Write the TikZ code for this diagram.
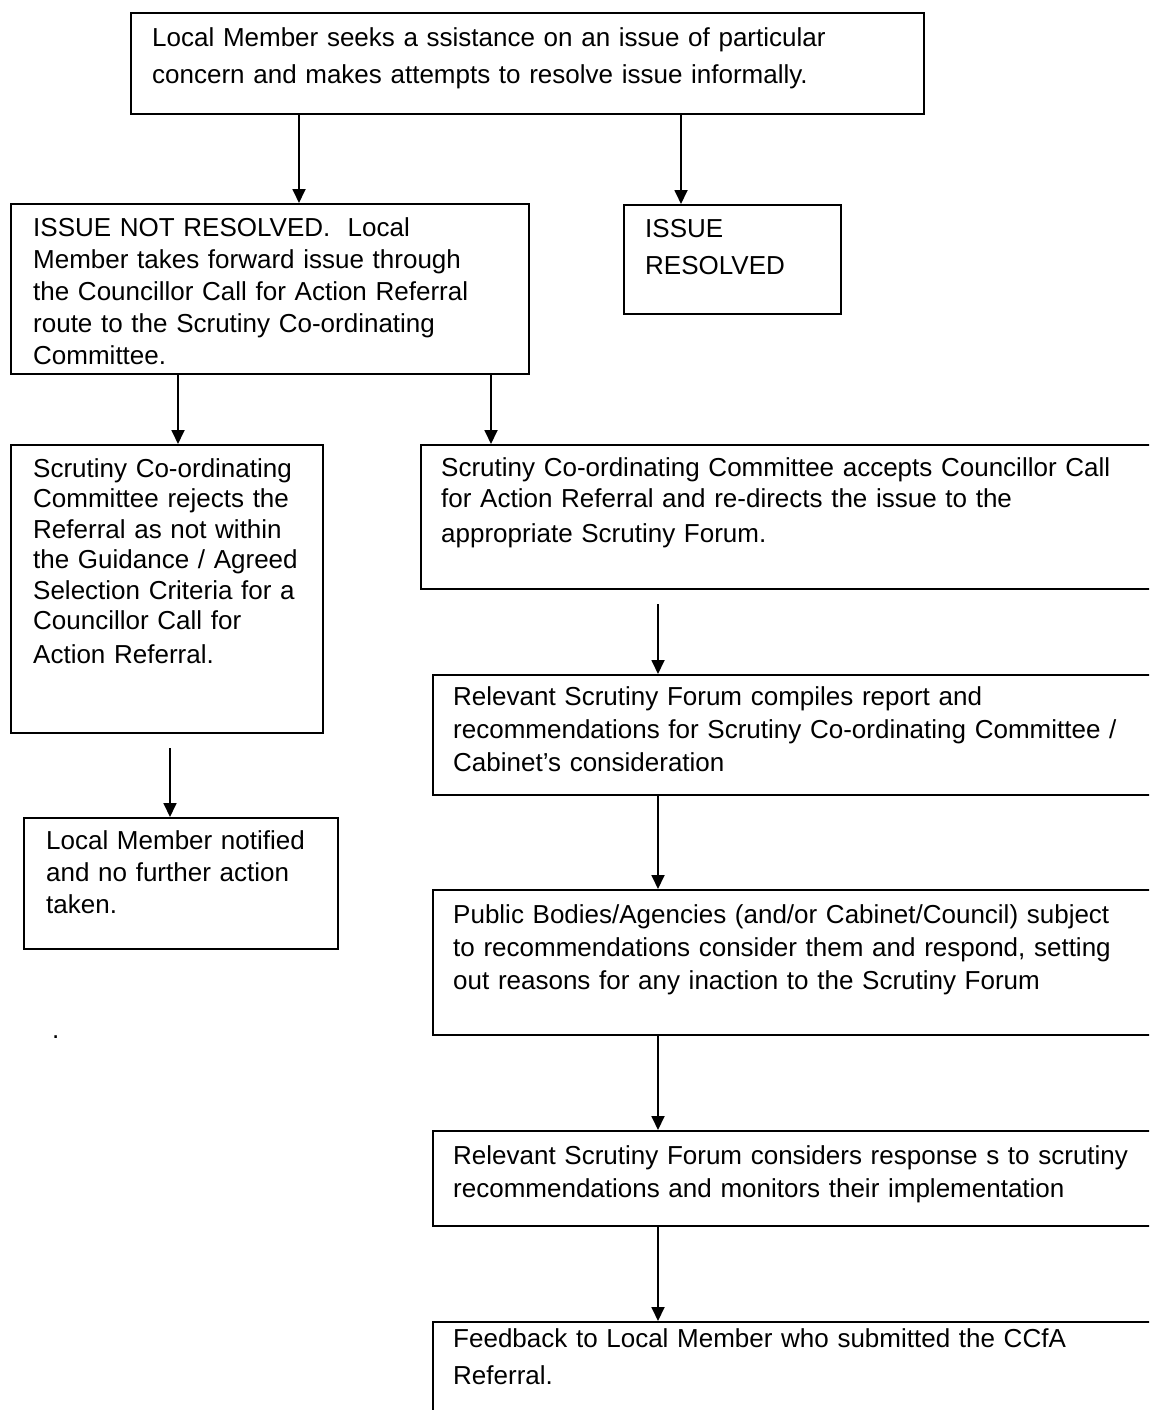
\documentclass[tikz,border=0pt]{standalone}
\usepackage{fontspec}
\setmainfont{Liberation Sans}
\usetikzlibrary{arrows.meta, calc}

\begin{document}
\begin{tikzpicture}[
  x=1pt, y=-1pt,
  panel/.style={draw, line width=2pt, anchor=north west, inner sep=0pt},
  words/.style={anchor=base west, inner sep=0pt, align=left, text width=740pt, font=\fontsize{26}{#1}\selectfont},
  words/.default=31,
  flow/.style={-{Triangle[length=14pt, width=13pt]}, line width=1.8pt}
]
  \useasboundingbox (0,0) rectangle (1149,1410);
  \clip (0,0) rectangle (1149,1410);

  \node[panel, minimum width=793pt, minimum height=101pt] (ask) at (130,12) {};
  \node[panel, minimum width=518pt, minimum height=170pt] (open) at (10,203) {};
  \node[panel, minimum width=217pt, minimum height=109pt] (done) at (623,204) {};
  \node[panel, minimum width=312pt, minimum height=288pt] (refuse) at (10,444) {};
  \node[panel, minimum width=760pt, minimum height=144pt] (accept) at (420,444) {};
  \node[panel, minimum width=760pt, minimum height=120pt] (report) at (432,674) {};
  \node[panel, minimum width=314pt, minimum height=131pt] (notify) at (23,817) {};
  \node[panel, minimum width=760pt, minimum height=145pt] (bodies) at (432,889) {};
  \node[panel, minimum width=760pt, minimum height=95pt] (review) at (432,1130) {};
  \node[panel, minimum width=760pt, minimum height=140pt] (feedback) at (432,1321) {};

  \node[words=37] (ask-t) at (152,47) {Local Member seeks a ssistance on an issue of particular\\concern and makes attempts to resolve issue informally.};
  \node[words=32] (open-t) at (33,236) {ISSUE NOT RESOLVED.~~Local\\Member takes forward issue through\\the Councillor Call for Action Referral\\route to the Scrutiny Co-ordinating\\Committee.};
  \node[words=37] (done-t) at (645,237) {ISSUE\\RESOLVED};
  \node[words=30.5] (refuse-t) at (33,477) {Scrutiny Co-ordinating\\Committee rejects the\\Referral as not within\\the Guidance / Agreed\\Selection Criteria for a\\Councillor Call for\\[3pt]Action Referral.};
  \node[words] (accept-t) at (441,476) {Scrutiny Co-ordinating Committee accepts Councillor Call\\for Action Referral and re-directs the issue to the\\[4pt]appropriate Scrutiny Forum.};
  \node[words=33] (report-t) at (453,705) {Relevant Scrutiny Forum compiles report and\\recommendations for Scrutiny Co-ordinating Committee /\\Cabinet’s consideration};
  \node[words=32] (notify-t) at (46,849) {Local Member notified\\and no further action\\taken.};
  \node[words=33] (bodies-t) at (453,923) {Public Bodies/Agencies (and/or Cabinet/Council) subject\\to recommendations consider them and respond, setting\\out reasons for any inaction to the Scrutiny Forum};
  \node[words=33] (review-t) at (453,1164) {Relevant Scrutiny Forum considers response s to scrutiny\\recommendations and monitors their implementation};
  \node[words=37] (feedback-t) at (453,1347) {Feedback to Local Member who submitted the CCfA\\Referral.};
  \node[words] (dot) at (52,1038) {.};

  \coordinate (split-l) at (299,0);
  \coordinate (split-r) at (681,0);
  \coordinate (route-l) at (178,0);
  \coordinate (route-r) at (491,0);
  \coordinate (drop) at (170,0);
  \coordinate (spine) at (658,0);

  \draw[flow] (ask.south -| split-l) -- (open.north -| split-l);
  \draw[flow] (ask.south -| split-r) -- (done.north -| split-r);
  \draw[flow] (open.south -| route-l) -- (refuse.north -| route-l);
  \draw[flow] (open.south -| route-r) -- (accept.north -| route-r);
  \draw[flow] ($(refuse.south -| drop)+(0,14)$) -- (notify.north -| drop);
  \draw[flow] ($(accept.south -| spine)+(0,14)$) -- (report.north -| spine);
  \draw[flow] (report.south -| spine) -- (bodies.north -| spine);
  \draw[flow] (bodies.south -| spine) -- (review.north -| spine);
  \draw[flow] (review.south -| spine) -- (feedback.north -| spine);
\end{tikzpicture}
\end{document}
